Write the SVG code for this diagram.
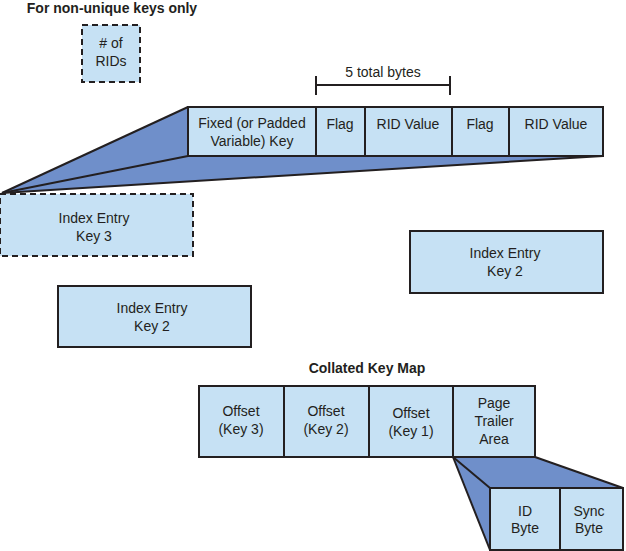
<svg xmlns="http://www.w3.org/2000/svg" width="626" height="551" viewBox="0 0 626 551">
<style>
.box{fill:#c6e1f4;stroke:#231f20;stroke-width:2}
.dash{fill:#c6e1f4;stroke:#231f20;stroke-width:2;stroke-dasharray:6 4}
.fan{fill:#6f8fca;stroke:none}
.ln{stroke:#231f20;stroke-width:2;fill:none}
text{font-family:"Liberation Sans",Arial,sans-serif;font-size:14px;fill:#231f20;text-anchor:middle}
.b{font-weight:bold}
</style>
<rect width="626" height="551" fill="#fff"/>
<text class="b" x="112" y="13">For non-unique keys only</text>
<g id="rids">
<rect class="dash" x="82" y="25" width="58" height="57"/>
<text x="111" y="48">#  of</text>
<text x="111" y="66">RIDs</text>
</g>
<g id="connectors">
<polygon class="fan" points="2,193 188,107 188,156 603,156"/>
<line class="ln" x1="2" y1="193" x2="188" y2="107"/>
<line class="ln" x1="2" y1="193" x2="188" y2="156"/>
<line class="ln" x1="2" y1="193" x2="603" y2="156"/>
<polygon class="fan" points="453,457 535,457 623,488 490,488 490,550"/>
<line class="ln" x1="453" y1="457" x2="490" y2="488"/>
<line class="ln" x1="453" y1="457" x2="490" y2="550"/>
<line class="ln" x1="535" y1="457" x2="623" y2="488"/>
</g>
<g id="bytes">
<line class="ln" x1="316" y1="85" x2="450" y2="85"/>
<line class="ln" x1="316" y1="76" x2="316" y2="95"/>
<line class="ln" x1="450" y1="76" x2="450" y2="95"/>
<text x="383" y="77">5 total bytes</text>
</g>
<g id="entry-row">
<rect class="box" x="188" y="107" width="128" height="49"/>
<rect class="box" x="316" y="107" width="49" height="49"/>
<rect class="box" x="365" y="107" width="87" height="49"/>
<rect class="box" x="452" y="107" width="57" height="49"/>
<rect class="box" x="509" y="107" width="94" height="49"/>
<text x="252" y="128">Fixed (or Padded</text>
<text x="252" y="146">Variable) Key</text>
<text x="340" y="129">Flag</text>
<text x="408" y="129">RID Value</text>
<text x="480" y="129">Flag</text>
<text x="556" y="129">RID Value</text>
</g>
<g id="key3">
<rect class="dash" x="0" y="194" width="193" height="62"/>
<text x="94" y="223">Index Entry</text>
<text x="94" y="241">Key 3</text>
</g>
<g id="key2-right">
<rect class="box" x="410" y="231" width="193" height="62"/>
<text x="505" y="258">Index Entry</text>
<text x="505" y="276">Key 2</text>
</g>
<g id="key2-left">
<rect class="box" x="58" y="286" width="193" height="61"/>
<text x="152" y="313">Index Entry</text>
<text x="152" y="331">Key 2</text>
</g>
<text class="b" x="367" y="373">Collated Key Map</text>
<g id="keymap">
<rect class="box" x="199" y="386" width="85" height="71"/>
<rect class="box" x="284" y="386" width="85" height="71"/>
<rect class="box" x="369" y="386" width="84" height="71"/>
<rect class="box" x="453" y="386" width="82" height="71"/>
<text x="241" y="416">Offset</text>
<text x="241" y="434">(Key 3)</text>
<text x="326" y="416">Offset</text>
<text x="326" y="434">(Key 2)</text>
<text x="411" y="418">Offset</text>
<text x="411" y="436">(Key 1)</text>
<text x="494" y="408">Page</text>
<text x="494" y="426">Trailer</text>
<text x="494" y="444">Area</text>
</g>
<g id="trailer">
<rect class="box" x="490" y="488" width="70" height="62"/>
<rect class="box" x="560" y="488" width="63" height="62"/>
<text x="525" y="516">ID</text>
<text x="525" y="533">Byte</text>
<text x="589" y="516">Sync</text>
<text x="589" y="533">Byte</text>
</g>
</svg>
